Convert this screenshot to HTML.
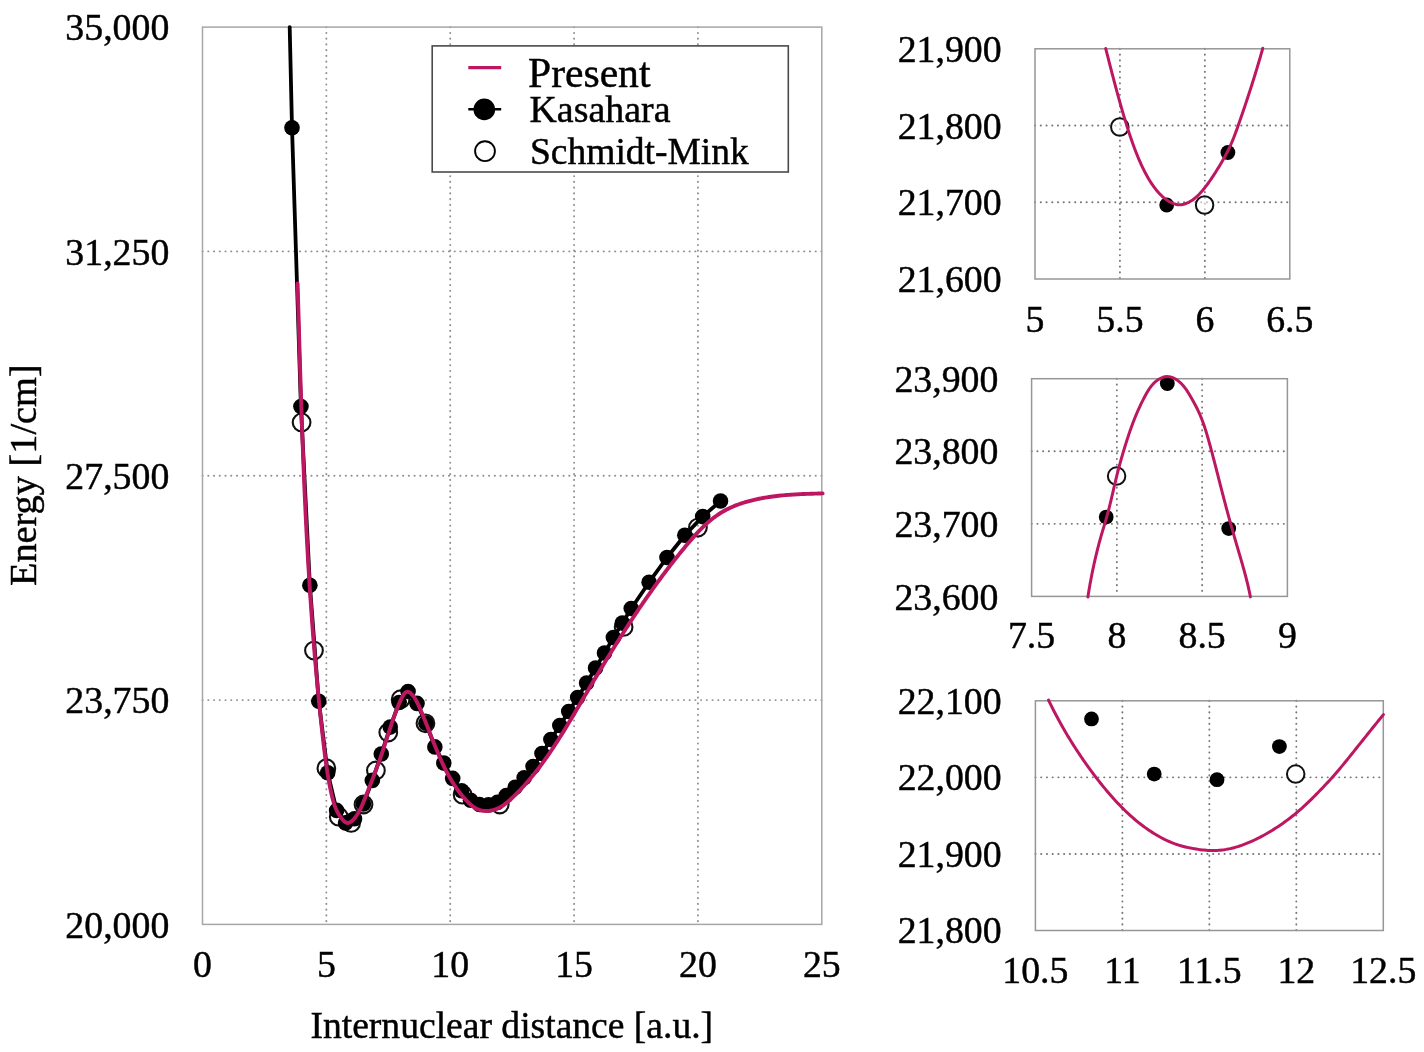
<!DOCTYPE html>
<html lang="en"><head><meta charset="utf-8"><title>Potential energy curve</title>
<style>
html,body{margin:0;padding:0;background:#fff}
body{width:1424px;height:1052px;overflow:hidden}
svg{display:block;filter:blur(0.5px)}
</style></head><body>
<svg width="1424" height="1052" viewBox="0 0 1424 1052">
<defs>
<clipPath id="cm"><rect x="199.5" y="25.1" width="624.8" height="901.3"/></clipPath>
</defs>
<rect width="1424" height="1052" fill="#fff"/>
<g id="main-grid">
<line x1="326.36" y1="27.1" x2="326.36" y2="924.4" stroke="#909090" stroke-width="1.9" stroke-dasharray="0.2 5.53" stroke-linecap="round"/>
<line x1="450.22" y1="27.1" x2="450.22" y2="924.4" stroke="#909090" stroke-width="1.9" stroke-dasharray="0.2 5.53" stroke-linecap="round"/>
<line x1="574.08" y1="27.1" x2="574.08" y2="924.4" stroke="#909090" stroke-width="1.9" stroke-dasharray="0.2 5.53" stroke-linecap="round"/>
<line x1="697.94" y1="27.1" x2="697.94" y2="924.4" stroke="#909090" stroke-width="1.9" stroke-dasharray="0.2 5.53" stroke-linecap="round"/>
<line x1="202.5" y1="700.08" x2="821.8" y2="700.08" stroke="#909090" stroke-width="1.9" stroke-dasharray="0.2 5.53" stroke-linecap="round"/>
<line x1="202.5" y1="475.75" x2="821.8" y2="475.75" stroke="#909090" stroke-width="1.9" stroke-dasharray="0.2 5.53" stroke-linecap="round"/>
<line x1="202.5" y1="251.42" x2="821.8" y2="251.42" stroke="#909090" stroke-width="1.9" stroke-dasharray="0.2 5.53" stroke-linecap="round"/>
</g>
<rect x="202.5" y="27.1" width="619.3" height="897.3" fill="none" stroke="#a6a6a6" stroke-width="1.5"/>
<g id="schmidt" fill="none" stroke="#111" stroke-width="2.1">
<circle cx="301.59" cy="422.4" r="8.85"/>
<circle cx="313.97" cy="650.6" r="8.85"/>
<circle cx="326.36" cy="768.2" r="8.85"/>
<circle cx="338.75" cy="816.7" r="8.85"/>
<circle cx="351.13" cy="822.9" r="8.85"/>
<circle cx="363.52" cy="804.5" r="8.85"/>
<circle cx="375.9" cy="770.5" r="8.85"/>
<circle cx="388.29" cy="732.5" r="8.85"/>
<circle cx="400.68" cy="699.2" r="8.85"/>
<circle cx="425.45" cy="723.3" r="8.85"/>
<circle cx="462.61" cy="794.7" r="8.85"/>
<circle cx="499.76" cy="804.5" r="8.85"/>
<circle cx="623.62" cy="626.9" r="8.85"/>
<circle cx="697.94" cy="527.6" r="8.85"/>
</g>
<g id="kasahara" clip-path="url(#cm)">
<path d="M289.7 27.2 L292 127.7 L300.93 406.6 L309.86 585.2 L318.78 701.3 L327.71 772.8 L336.64 810.4 L345.57 822.9 L354.5 818.8 L363.42 804 L372.35 780.4 L381.28 754 L390.21 727.1 L399.14 702.5 L408.06 691.5 L416.99 703.4 L425.92 723.3 L434.85 746.9 L443.78 763.1 L452.7 778.4 L461.63 790.8 L470.56 800.2 L479.49 804.5 L488.42 804.9 L497.34 802.4 L506.27 795.5 L515.2 787.3 L524.13 777.8 L533.06 766.5 L541.98 753.5 L550.91 739.5 L559.84 725.5 L568.77 711.5 L577.7 697.5 L586.62 683 L595.55 668 L604.48 653 L613.41 637.6 L622.34 623.1 L631.26 608.5 L649.12 582.2 L666.98 557.5 L684.83 535.2 L702.69 516.6 L720.54 501" fill="none" stroke="#000" stroke-width="3.8" stroke-linejoin="round" stroke-linecap="round"/>
<circle cx="292" cy="127.7" r="7.8" fill="#000"/>
<circle cx="300.93" cy="406.6" r="7.8" fill="#000"/>
<circle cx="309.86" cy="585.2" r="7.8" fill="#000"/>
<circle cx="318.78" cy="701.3" r="7.8" fill="#000"/>
<circle cx="327.71" cy="772.8" r="7.8" fill="#000"/>
<circle cx="336.64" cy="810.4" r="7.8" fill="#000"/>
<circle cx="345.57" cy="822.9" r="7.8" fill="#000"/>
<circle cx="354.5" cy="818.8" r="7.8" fill="#000"/>
<circle cx="363.42" cy="804" r="7.8" fill="#000"/>
<circle cx="372.35" cy="780.4" r="7.8" fill="#000"/>
<circle cx="381.28" cy="754" r="7.8" fill="#000"/>
<circle cx="390.21" cy="727.1" r="7.8" fill="#000"/>
<circle cx="399.14" cy="702.5" r="7.8" fill="#000"/>
<circle cx="408.06" cy="691.5" r="7.8" fill="#000"/>
<circle cx="416.99" cy="703.4" r="7.8" fill="#000"/>
<circle cx="425.92" cy="723.3" r="7.8" fill="#000"/>
<circle cx="434.85" cy="746.9" r="7.8" fill="#000"/>
<circle cx="443.78" cy="763.1" r="7.8" fill="#000"/>
<circle cx="452.7" cy="778.4" r="7.8" fill="#000"/>
<circle cx="461.63" cy="790.8" r="7.8" fill="#000"/>
<circle cx="470.56" cy="800.2" r="7.8" fill="#000"/>
<circle cx="479.49" cy="804.5" r="7.8" fill="#000"/>
<circle cx="488.42" cy="804.9" r="7.8" fill="#000"/>
<circle cx="497.34" cy="802.4" r="7.8" fill="#000"/>
<circle cx="506.27" cy="795.5" r="7.8" fill="#000"/>
<circle cx="515.2" cy="787.3" r="7.8" fill="#000"/>
<circle cx="524.13" cy="777.8" r="7.8" fill="#000"/>
<circle cx="533.06" cy="766.5" r="7.8" fill="#000"/>
<circle cx="541.98" cy="753.5" r="7.8" fill="#000"/>
<circle cx="550.91" cy="739.5" r="7.8" fill="#000"/>
<circle cx="559.84" cy="725.5" r="7.8" fill="#000"/>
<circle cx="568.77" cy="711.5" r="7.8" fill="#000"/>
<circle cx="577.7" cy="697.5" r="7.8" fill="#000"/>
<circle cx="586.62" cy="683" r="7.8" fill="#000"/>
<circle cx="595.55" cy="668" r="7.8" fill="#000"/>
<circle cx="604.48" cy="653" r="7.8" fill="#000"/>
<circle cx="613.41" cy="637.6" r="7.8" fill="#000"/>
<circle cx="622.34" cy="623.1" r="7.8" fill="#000"/>
<circle cx="631.26" cy="608.5" r="7.8" fill="#000"/>
<circle cx="649.12" cy="582.2" r="7.8" fill="#000"/>
<circle cx="666.98" cy="557.5" r="7.8" fill="#000"/>
<circle cx="684.83" cy="535.2" r="7.8" fill="#000"/>
<circle cx="702.69" cy="516.6" r="7.8" fill="#000"/>
<circle cx="720.54" cy="501" r="7.8" fill="#000"/>
</g>
<path id="present" d="M297.6 283.5 L297.66 285.5 L297.72 287.5 L297.78 289.5 L297.84 291.5 L297.89 293.5 L297.95 295.5 L298.01 297.5 L298.07 299.5 L298.13 301.5 L298.19 303.5 L298.25 305.5 L298.3 307.49 L298.36 309.49 L298.42 311.49 L298.48 313.49 L298.54 315.49 L298.6 317.49 L298.65 319.49 L298.71 321.48 L298.77 323.48 L298.83 325.48 L298.89 327.48 L298.95 329.48 L299.01 331.47 L299.06 333.47 L299.12 335.47 L299.18 337.47 L299.24 339.47 L299.3 341.46 L299.36 343.46 L299.42 345.46 L299.48 347.46 L299.54 349.45 L299.6 351.45 L299.66 353.45 L299.72 355.44 L299.78 357.44 L299.84 359.44 L299.9 361.43 L299.96 363.43 L300.02 365.43 L300.08 367.42 L300.14 369.42 L300.2 371.42 L300.27 373.41 L300.33 375.41 L300.39 377.4 L300.45 379.4 L300.51 381.4 L300.58 383.39 L300.64 385.39 L300.7 387.38 L300.77 389.38 L300.83 391.38 L300.9 393.37 L300.96 395.37 L301.03 397.36 L301.09 399.36 L301.16 401.35 L301.22 403.35 L301.29 405.34 L301.35 407.34 L301.42 409.33 L301.49 411.33 L301.56 413.32 L301.62 415.32 L301.69 417.31 L301.76 419.31 L301.83 421.3 L301.9 423.3 L301.97 425.29 L302.04 427.29 L302.11 429.28 L302.18 431.28 L302.25 433.27 L302.33 435.26 L302.4 437.26 L302.47 439.25 L302.54 441.25 L302.62 443.24 L302.69 445.24 L302.77 447.23 L302.84 449.22 L302.92 451.22 L303 453.21 L303.07 455.21 L303.15 457.2 L303.23 459.19 L303.31 461.19 L303.39 463.18 L303.47 465.17 L303.55 467.17 L303.63 469.16 L303.71 471.16 L303.79 473.15 L303.87 475.14 L303.96 477.14 L304.04 479.13 L304.12 481.12 L304.21 483.12 L304.3 485.11 L304.38 487.1 L304.47 489.1 L304.56 491.09 L304.65 493.08 L304.73 495.08 L304.82 497.07 L304.91 499.06 L305.01 501.06 L305.1 503.05 L305.19 505.04 L305.28 507.03 L305.38 509.03 L305.47 511.02 L305.57 513.01 L305.66 515.01 L305.76 517 L305.86 518.99 L305.96 520.99 L306.05 522.98 L306.15 524.97 L306.26 526.96 L306.36 528.96 L306.46 530.95 L306.56 532.94 L306.67 534.93 L306.77 536.93 L306.88 538.92 L306.98 540.91 L307.09 542.91 L307.2 544.9 L307.31 546.89 L307.42 548.88 L307.53 550.88 L307.64 552.87 L307.75 554.86 L307.87 556.85 L307.98 558.85 L308.1 560.84 L308.21 562.83 L308.33 564.82 L308.45 566.82 L308.57 568.81 L308.69 570.8 L308.81 572.8 L308.93 574.79 L309.05 576.78 L309.18 578.77 L309.3 580.77 L309.43 582.76 L309.56 584.75 L309.68 586.74 L309.81 588.74 L309.94 590.73 L310.07 592.72 L310.21 594.71 L310.34 596.71 L310.47 598.7 L310.61 600.69 L310.74 602.68 L310.88 604.68 L311.02 606.67 L311.16 608.66 L311.3 610.65 L311.44 612.65 L311.58 614.64 L311.73 616.63 L311.87 618.63 L312.02 620.62 L312.17 622.61 L312.32 624.6 L312.47 626.6 L312.62 628.59 L312.77 630.58 L312.92 632.58 L313.08 634.57 L313.23 636.56 L313.39 638.55 L313.55 640.55 L313.71 642.54 L313.87 644.53 L314.03 646.53 L314.19 648.52 L314.36 650.51 L314.52 652.5 L314.69 654.5 L314.86 656.49 L315.03 658.48 L315.2 660.48 L315.37 662.47 L315.54 664.46 L315.72 666.46 L315.89 668.45 L316.07 670.44 L316.25 672.44 L316.43 674.43 L316.61 676.42 L316.79 678.42 L316.98 680.41 L317.16 682.4 L317.35 684.4 L317.54 686.39 L317.73 688.39 L317.92 690.38 L318.11 692.37 L318.3 694.37 L318.5 696.36 L318.7 698.35 L318.89 700.35 L319.09 702.34 L319.29 704.34 L319.5 706.33 L319.7 708.32 L319.91 710.32 L320.11 712.31 L320.32 714.31 L320.53 716.3 L320.74 718.3 L320.95 720.29 L321.17 722.28 L321.38 724.28 L321.6 726.27 L321.82 728.27 L322.04 730.26 L322.26 732.26 L322.49 734.25 L322.71 736.25 L322.94 738.24 L323.17 740.24 L323.4 742.23 L323.63 744.23 L323.86 746.22 L324.1 748.21 L324.34 750.21 L324.58 752.2 L324.83 754.19 L325.08 756.18 L325.34 758.16 L325.6 760.15 L325.87 762.13 L326.15 764.11 L326.43 766.09 L326.72 768.06 L327.01 770.03 L327.32 771.99 L327.63 773.95 L327.95 775.91 L328.28 777.86 L328.62 779.81 L328.97 781.75 L329.34 783.69 L329.71 785.62 L330.09 787.54 L330.49 789.46 L330.9 791.37 L331.32 793.27 L331.76 795.17 L332.21 797.06 L332.68 798.94 L333.18 800.82 L333.73 802.68 L334.32 804.54 L334.98 806.39 L335.7 808.23 L336.51 810.06 L337.4 811.88 L338.39 813.69 L339.5 815.49 L340.72 817.29 L342.06 819.05 L343.52 820.66 L345.05 821.96 L346.63 822.77 L348.25 822.95 L349.85 822.46 L351.43 821.44 L352.96 820.05 L354.4 818.43 L355.73 816.73 L356.95 815 L358.07 813.25 L359.09 811.48 L360.04 809.7 L360.93 807.9 L361.76 806.09 L362.55 804.26 L363.31 802.43 L364.05 800.59 L364.79 798.75 L365.52 796.9 L366.26 795.05 L367 793.2 L367.74 791.35 L368.47 789.49 L369.21 787.63 L369.94 785.76 L370.68 783.9 L371.41 782.03 L372.14 780.16 L372.86 778.29 L373.58 776.42 L374.3 774.54 L375.01 772.67 L375.72 770.79 L376.42 768.91 L377.12 767.04 L377.81 765.16 L378.49 763.28 L379.17 761.39 L379.84 759.51 L380.5 757.63 L381.15 755.75 L381.79 753.87 L382.43 751.99 L383.05 750.11 L383.67 748.23 L384.29 746.35 L384.9 744.47 L385.5 742.58 L386.11 740.7 L386.71 738.82 L387.31 736.94 L387.92 735.06 L388.52 733.18 L389.13 731.29 L389.74 729.41 L390.36 727.52 L390.99 725.64 L391.62 723.75 L392.26 721.87 L392.92 719.98 L393.58 718.09 L394.25 716.2 L394.94 714.32 L395.64 712.42 L396.36 710.53 L397.1 708.64 L397.86 706.74 L398.65 704.82 L399.48 702.87 L400.36 700.9 L401.3 698.88 L402.3 696.86 L403.38 694.97 L404.53 693.39 L405.78 692.3 L407.09 691.8 L408.44 691.9 L409.77 692.56 L411.07 693.59 L412.29 694.82 L413.44 696.22 L414.53 697.76 L415.56 699.42 L416.54 701.18 L417.47 703.02 L418.37 704.91 L419.25 706.85 L420.1 708.8 L420.93 710.74 L421.75 712.68 L422.56 714.62 L423.36 716.55 L424.15 718.48 L424.93 720.4 L425.69 722.31 L426.45 724.22 L427.21 726.12 L427.95 728.02 L428.7 729.91 L429.43 731.79 L430.17 733.67 L430.9 735.54 L431.63 737.41 L432.36 739.27 L433.09 741.12 L433.82 742.96 L434.56 744.8 L435.3 746.63 L436.04 748.46 L436.79 750.28 L437.54 752.09 L438.3 753.89 L439.07 755.69 L439.85 757.48 L440.63 759.26 L441.43 761.03 L442.24 762.8 L443.06 764.56 L443.9 766.31 L444.75 768.05 L445.62 769.79 L446.5 771.52 L447.4 773.24 L448.32 774.95 L449.26 776.65 L450.22 778.34 L451.2 780.03 L452.21 781.71 L453.25 783.38 L454.32 785.04 L455.42 786.7 L456.56 788.34 L457.72 789.98 L458.93 791.61 L460.17 793.24 L461.46 794.85 L462.78 796.46 L464.16 798.06 L465.57 799.66 L467.04 801.23 L468.56 802.75 L470.12 804.2 L471.74 805.57 L473.42 806.83 L475.15 807.95 L476.94 808.92 L478.8 809.72 L480.71 810.32 L482.68 810.72 L484.69 810.93 L486.72 810.97 L488.75 810.83 L490.78 810.55 L492.78 810.11 L494.74 809.54 L496.65 808.85 L498.48 808.04 L500.24 807.13 L501.94 806.13 L503.57 805.05 L505.16 803.9 L506.7 802.69 L508.21 801.43 L509.68 800.13 L511.14 798.8 L512.57 797.46 L514 796.1 L515.41 794.73 L516.8 793.35 L518.19 791.95 L519.56 790.55 L520.92 789.12 L522.26 787.69 L523.6 786.24 L524.92 784.79 L526.23 783.32 L527.53 781.84 L528.82 780.35 L530.09 778.84 L531.36 777.33 L532.62 775.81 L533.86 774.27 L535.1 772.73 L536.32 771.18 L537.54 769.62 L538.75 768.05 L539.94 766.47 L541.13 764.88 L542.31 763.28 L543.48 761.68 L544.65 760.06 L545.8 758.44 L546.95 756.82 L548.09 755.18 L549.22 753.54 L550.35 751.89 L551.47 750.24 L552.58 748.58 L553.69 746.91 L554.79 745.24 L555.88 743.56 L556.97 741.88 L558.05 740.19 L559.13 738.49 L560.2 736.8 L561.27 735.1 L562.34 733.39 L563.4 731.68 L564.45 729.97 L565.5 728.25 L566.55 726.54 L567.59 724.81 L568.64 723.09 L569.67 721.36 L570.71 719.64 L571.74 717.91 L572.77 716.17 L573.8 714.44 L574.83 712.71 L575.85 710.97 L576.88 709.24 L577.9 707.5 L578.92 705.77 L579.95 704.03 L580.97 702.3 L581.99 700.56 L583.01 698.83 L584.03 697.1 L585.05 695.37 L586.07 693.64 L587.1 691.91 L588.12 690.18 L589.14 688.46 L590.17 686.73 L591.19 685.01 L592.22 683.29 L593.24 681.56 L594.27 679.84 L595.3 678.13 L596.32 676.41 L597.35 674.69 L598.38 672.98 L599.42 671.26 L600.45 669.55 L601.48 667.84 L602.52 666.13 L603.55 664.43 L604.59 662.72 L605.63 661.02 L606.67 659.31 L607.71 657.61 L608.76 655.91 L609.8 654.21 L610.85 652.52 L611.9 650.82 L612.95 649.13 L614 647.44 L615.06 645.75 L616.11 644.06 L617.17 642.37 L618.23 640.68 L619.3 639 L620.36 637.32 L621.43 635.64 L622.5 633.96 L623.57 632.29 L624.65 630.61 L625.72 628.94 L626.8 627.27 L627.89 625.6 L628.97 623.93 L630.06 622.27 L631.15 620.61 L632.24 618.95 L633.34 617.29 L634.44 615.63 L635.54 613.98 L636.65 612.32 L637.76 610.67 L638.87 609.02 L639.99 607.38 L641.1 605.73 L642.23 604.09 L643.35 602.45 L644.48 600.82 L645.61 599.18 L646.75 597.55 L647.89 595.92 L649.03 594.29 L650.18 592.66 L651.33 591.04 L652.49 589.42 L653.65 587.8 L654.81 586.18 L655.98 584.56 L657.15 582.95 L658.33 581.34 L659.51 579.74 L660.69 578.13 L661.88 576.53 L663.07 574.93 L664.27 573.33 L665.47 571.74 L666.68 570.14 L667.89 568.56 L669.1 566.97 L670.33 565.38 L671.55 563.8 L672.78 562.22 L674.02 560.65 L675.26 559.07 L676.5 557.5 L677.75 555.93 L679.01 554.37 L680.27 552.81 L681.54 551.25 L682.81 549.69 L684.09 548.14 L685.37 546.58 L686.66 545.04 L687.95 543.49 L689.25 541.95 L690.56 540.42 L691.88 538.9 L693.21 537.39 L694.55 535.89 L695.9 534.4 L697.26 532.92 L698.64 531.46 L700.03 530.02 L701.43 528.6 L702.85 527.2 L704.29 525.81 L705.75 524.46 L707.22 523.12 L708.71 521.81 L710.23 520.53 L711.76 519.28 L713.32 518.06 L714.89 516.87 L716.5 515.71 L718.12 514.59 L719.77 513.5 L721.45 512.45 L723.16 511.44 L724.89 510.47 L726.65 509.53 L728.43 508.64 L730.24 507.78 L732.07 506.96 L733.91 506.17 L735.78 505.42 L737.66 504.7 L739.56 504.02 L741.48 503.36 L743.41 502.74 L745.34 502.14 L747.29 501.58 L749.25 501.04 L751.21 500.53 L753.18 500.05 L755.16 499.59 L757.13 499.16 L759.11 498.75 L761.09 498.36 L763.06 497.99 L765.04 497.65 L767.01 497.32 L768.98 497.01 L770.95 496.73 L772.92 496.46 L774.89 496.21 L776.85 495.97 L778.82 495.75 L780.79 495.54 L782.76 495.35 L784.73 495.18 L786.7 495.01 L788.67 494.86 L790.64 494.72 L792.62 494.59 L794.59 494.47 L796.57 494.36 L798.55 494.25 L800.54 494.16 L802.52 494.07 L804.51 493.99 L806.5 493.91 L808.5 493.84 L810.5 493.77 L812.51 493.7 L814.52 493.64 L816.53 493.58 L818.55 493.52 L820.57 493.46 L822.6 493.4" fill="none" stroke="#bd1762" stroke-width="3.9" stroke-linejoin="round" stroke-linecap="round"/>
<text x="169.3" y="40.3" font-family="'Liberation Serif', 'Times New Roman', Times, serif" font-size="37.8" text-anchor="end" fill="#000" stroke="#000" stroke-width="0.45">35,000</text>
<text x="169.3" y="264.62" font-family="'Liberation Serif', 'Times New Roman', Times, serif" font-size="37.8" text-anchor="end" fill="#000" stroke="#000" stroke-width="0.45">31,250</text>
<text x="169.3" y="488.95" font-family="'Liberation Serif', 'Times New Roman', Times, serif" font-size="37.8" text-anchor="end" fill="#000" stroke="#000" stroke-width="0.45">27,500</text>
<text x="169.3" y="713.28" font-family="'Liberation Serif', 'Times New Roman', Times, serif" font-size="37.8" text-anchor="end" fill="#000" stroke="#000" stroke-width="0.45">23,750</text>
<text x="169.3" y="937.6" font-family="'Liberation Serif', 'Times New Roman', Times, serif" font-size="37.8" text-anchor="end" fill="#000" stroke="#000" stroke-width="0.45">20,000</text>
<text x="202.5" y="976.8" font-family="'Liberation Serif', 'Times New Roman', Times, serif" font-size="37.8" text-anchor="middle" fill="#000" stroke="#000" stroke-width="0.45">0</text>
<text x="326.36" y="976.8" font-family="'Liberation Serif', 'Times New Roman', Times, serif" font-size="37.8" text-anchor="middle" fill="#000" stroke="#000" stroke-width="0.45">5</text>
<text x="450.22" y="976.8" font-family="'Liberation Serif', 'Times New Roman', Times, serif" font-size="37.8" text-anchor="middle" fill="#000" stroke="#000" stroke-width="0.45">10</text>
<text x="574.08" y="976.8" font-family="'Liberation Serif', 'Times New Roman', Times, serif" font-size="37.8" text-anchor="middle" fill="#000" stroke="#000" stroke-width="0.45">15</text>
<text x="697.94" y="976.8" font-family="'Liberation Serif', 'Times New Roman', Times, serif" font-size="37.8" text-anchor="middle" fill="#000" stroke="#000" stroke-width="0.45">20</text>
<text x="821.8" y="976.8" font-family="'Liberation Serif', 'Times New Roman', Times, serif" font-size="37.8" text-anchor="middle" fill="#000" stroke="#000" stroke-width="0.45">25</text>
<text x="511.8" y="1038" font-family="'Liberation Serif', 'Times New Roman', Times, serif" font-size="37.6" text-anchor="middle" fill="#000" stroke="#000" stroke-width="0.45">Internuclear distance [a.u.]</text>
<text transform="translate(36 475.2) rotate(-90)" font-family="'Liberation Serif', 'Times New Roman', Times, serif" font-size="38.3" text-anchor="middle" fill="#000" stroke="#000" stroke-width="0.45">Energy [1/cm]</text>
<g id="legend">
<rect x="432.2" y="45.9" width="356.1" height="126.1" fill="#fff" stroke="#4a4a4a" stroke-width="1.6"/>
<line x1="468.3" y1="67.7" x2="501.2" y2="67.7" stroke="#bd1762" stroke-width="3.2"/>
<line x1="468.3" y1="109.3" x2="501.2" y2="109.3" stroke="#000" stroke-width="2.6"/>
<circle cx="484.3" cy="109.4" r="10.8" fill="#000"/>
<circle cx="485.0" cy="151.2" r="9.9" fill="#fff" stroke="#000" stroke-width="1.9"/>
<text x="528" y="86.6" font-family="'Liberation Serif', 'Times New Roman', Times, serif" font-size="41.6" text-anchor="start" fill="#000" stroke="#000" stroke-width="0.45">Present</text>
<text x="529.5" y="122.2" font-family="'Liberation Serif', 'Times New Roman', Times, serif" font-size="37.9" text-anchor="start" fill="#000" stroke="#000" stroke-width="0.45">Kasahara</text>
<text x="530" y="164.2" font-family="'Liberation Serif', 'Times New Roman', Times, serif" font-size="37.5" text-anchor="start" fill="#000" stroke="#000" stroke-width="0.45">Schmidt-Mink</text>
</g>
<g id="inset1">
<line x1="1119.93" y1="48.8" x2="1119.93" y2="279" stroke="#777" stroke-width="1.9" stroke-dasharray="0.2 5.53" stroke-linecap="round"/>
<line x1="1204.87" y1="48.8" x2="1204.87" y2="279" stroke="#777" stroke-width="1.9" stroke-dasharray="0.2 5.53" stroke-linecap="round"/>
<line x1="1035" y1="125.53" x2="1289.8" y2="125.53" stroke="#777" stroke-width="1.9" stroke-dasharray="0.2 5.53" stroke-linecap="round"/>
<line x1="1035" y1="202.27" x2="1289.8" y2="202.27" stroke="#777" stroke-width="1.9" stroke-dasharray="0.2 5.53" stroke-linecap="round"/>
<rect x="1035" y="48.8" width="254.8" height="230.2" fill="none" stroke="#969696" stroke-width="1.5"/>
<circle cx="1166.7" cy="205" r="7.4" fill="#000"/>
<circle cx="1227.9" cy="152.5" r="7.4" fill="#000"/>
<circle cx="1119.8" cy="127" r="8.75" fill="#fff" fill-opacity="0.55" stroke="#111" stroke-width="2"/>
<circle cx="1204.6" cy="205" r="8.75" fill="#fff" fill-opacity="0.55" stroke="#111" stroke-width="2"/>
<path d="M1105.7 48.5 L1106.19 50.43 L1106.68 52.36 L1107.18 54.29 L1107.67 56.22 L1108.16 58.15 L1108.66 60.08 L1109.15 62.01 L1109.65 63.93 L1110.14 65.86 L1110.64 67.79 L1111.14 69.72 L1111.64 71.65 L1112.14 73.57 L1112.64 75.5 L1113.15 77.43 L1113.66 79.35 L1114.16 81.28 L1114.68 83.2 L1115.19 85.13 L1115.7 87.05 L1116.22 88.98 L1116.74 90.9 L1117.27 92.82 L1117.79 94.74 L1118.32 96.66 L1118.85 98.58 L1119.39 100.5 L1119.93 102.41 L1120.47 104.33 L1121.01 106.25 L1121.56 108.16 L1122.12 110.07 L1122.67 111.99 L1123.24 113.9 L1123.8 115.81 L1124.37 117.72 L1124.95 119.62 L1125.53 121.53 L1126.11 123.43 L1126.7 125.33 L1127.3 127.23 L1127.9 129.13 L1128.52 131.03 L1129.13 132.92 L1129.76 134.81 L1130.39 136.7 L1131.03 138.59 L1131.68 140.47 L1132.34 142.35 L1133.01 144.22 L1133.69 146.09 L1134.38 147.96 L1135.08 149.82 L1135.8 151.68 L1136.53 153.53 L1137.27 155.38 L1138.03 157.22 L1138.8 159.06 L1139.59 160.89 L1140.4 162.71 L1141.22 164.52 L1142.07 166.33 L1142.93 168.14 L1143.81 169.93 L1144.72 171.72 L1145.65 173.49 L1146.6 175.26 L1147.58 177 L1148.58 178.74 L1149.62 180.45 L1150.68 182.14 L1151.78 183.81 L1152.91 185.45 L1154.08 187.06 L1155.28 188.65 L1156.52 190.2 L1157.8 191.72 L1159.12 193.2 L1160.49 194.63 L1161.91 196.02 L1163.4 197.35 L1164.94 198.62 L1166.56 199.83 L1168.25 200.95 L1170.02 201.99 L1171.85 202.91 L1173.74 203.69 L1175.66 204.28 L1177.61 204.66 L1179.57 204.8 L1181.53 204.68 L1183.48 204.31 L1185.41 203.74 L1187.29 202.98 L1189.13 202.07 L1190.91 201.04 L1192.61 199.92 L1194.24 198.72 L1195.8 197.45 L1197.29 196.12 L1198.73 194.73 L1200.11 193.3 L1201.44 191.82 L1202.74 190.3 L1204 188.75 L1205.23 187.18 L1206.43 185.6 L1207.62 184 L1208.78 182.38 L1209.93 180.75 L1211.06 179.11 L1212.17 177.46 L1213.27 175.8 L1214.36 174.13 L1215.43 172.45 L1216.49 170.76 L1217.54 169.07 L1218.59 167.37 L1219.62 165.67 L1220.65 163.96 L1221.67 162.24 L1222.68 160.52 L1223.67 158.8 L1224.65 157.06 L1225.61 155.32 L1226.54 153.56 L1227.45 151.79 L1228.34 150.01 L1229.2 148.22 L1230.03 146.41 L1230.84 144.59 L1231.63 142.77 L1232.4 140.93 L1233.15 139.08 L1233.89 137.23 L1234.6 135.37 L1235.31 133.51 L1236 131.64 L1236.69 129.76 L1237.36 127.88 L1238.03 126 L1238.69 124.12 L1239.35 122.23 L1240 120.35 L1240.66 118.46 L1241.31 116.58 L1241.95 114.69 L1242.6 112.81 L1243.24 110.92 L1243.88 109.03 L1244.52 107.15 L1245.16 105.26 L1245.79 103.37 L1246.42 101.48 L1247.05 99.59 L1247.67 97.7 L1248.29 95.81 L1248.91 93.92 L1249.53 92.03 L1250.14 90.14 L1250.75 88.24 L1251.36 86.35 L1251.96 84.45 L1252.56 82.56 L1253.16 80.66 L1253.75 78.76 L1254.35 76.86 L1254.93 74.96 L1255.52 73.06 L1256.1 71.16 L1256.68 69.25 L1257.25 67.34 L1257.82 65.44 L1258.39 63.53 L1258.95 61.62 L1259.52 59.71 L1260.07 57.79 L1260.63 55.88 L1261.17 53.96 L1261.72 52.04 L1262.26 50.12 L1262.8 48.2" fill="none" stroke="#bd1762" stroke-width="3" stroke-linecap="round" stroke-linejoin="round"/>
<text x="1035" y="332.2" font-family="'Liberation Serif', 'Times New Roman', Times, serif" font-size="37.8" text-anchor="middle" fill="#000" stroke="#000" stroke-width="0.45">5</text>
<text x="1119.93" y="332.2" font-family="'Liberation Serif', 'Times New Roman', Times, serif" font-size="37.8" text-anchor="middle" fill="#000" stroke="#000" stroke-width="0.45">5.5</text>
<text x="1204.87" y="332.2" font-family="'Liberation Serif', 'Times New Roman', Times, serif" font-size="37.8" text-anchor="middle" fill="#000" stroke="#000" stroke-width="0.45">6</text>
<text x="1289.8" y="332.2" font-family="'Liberation Serif', 'Times New Roman', Times, serif" font-size="37.8" text-anchor="middle" fill="#000" stroke="#000" stroke-width="0.45">6.5</text>
<text x="1001.6" y="61.9" font-family="'Liberation Serif', 'Times New Roman', Times, serif" font-size="37.8" text-anchor="end" fill="#000" stroke="#000" stroke-width="0.45">21,900</text>
<text x="1001.6" y="138.63" font-family="'Liberation Serif', 'Times New Roman', Times, serif" font-size="37.8" text-anchor="end" fill="#000" stroke="#000" stroke-width="0.45">21,800</text>
<text x="1001.6" y="215.37" font-family="'Liberation Serif', 'Times New Roman', Times, serif" font-size="37.8" text-anchor="end" fill="#000" stroke="#000" stroke-width="0.45">21,700</text>
<text x="1001.6" y="292.1" font-family="'Liberation Serif', 'Times New Roman', Times, serif" font-size="37.8" text-anchor="end" fill="#000" stroke="#000" stroke-width="0.45">21,600</text>
</g>
<g id="inset2">
<line x1="1116.87" y1="378.7" x2="1116.87" y2="596.4" stroke="#777" stroke-width="1.9" stroke-dasharray="0.2 5.53" stroke-linecap="round"/>
<line x1="1202.13" y1="378.7" x2="1202.13" y2="596.4" stroke="#777" stroke-width="1.9" stroke-dasharray="0.2 5.53" stroke-linecap="round"/>
<line x1="1031.6" y1="451.27" x2="1287.4" y2="451.27" stroke="#777" stroke-width="1.9" stroke-dasharray="0.2 5.53" stroke-linecap="round"/>
<line x1="1031.6" y1="523.83" x2="1287.4" y2="523.83" stroke="#777" stroke-width="1.9" stroke-dasharray="0.2 5.53" stroke-linecap="round"/>
<rect x="1031.6" y="378.7" width="255.8" height="217.7" fill="none" stroke="#969696" stroke-width="1.5"/>
<circle cx="1167.3" cy="383.5" r="7.4" fill="#000"/>
<circle cx="1106.2" cy="517.1" r="7.4" fill="#000"/>
<circle cx="1228.7" cy="528.6" r="7.4" fill="#000"/>
<circle cx="1116.6" cy="476.1" r="8.75" fill="#fff" fill-opacity="0.55" stroke="#111" stroke-width="2"/>
<path d="M1087.9 596.9 L1088.21 594.93 L1088.53 592.96 L1088.86 590.99 L1089.19 589.02 L1089.53 587.05 L1089.88 585.09 L1090.23 583.12 L1090.59 581.16 L1090.96 579.19 L1091.33 577.23 L1091.72 575.27 L1092.1 573.31 L1092.5 571.35 L1092.9 569.4 L1093.32 567.44 L1093.73 565.49 L1094.16 563.54 L1094.6 561.59 L1095.04 559.64 L1095.49 557.7 L1095.95 555.75 L1096.41 553.81 L1096.89 551.87 L1097.37 549.93 L1097.86 548 L1098.36 546.06 L1098.87 544.13 L1099.38 542.2 L1099.91 540.27 L1100.44 538.35 L1100.98 536.43 L1101.54 534.51 L1102.1 532.59 L1102.66 530.68 L1103.24 528.76 L1103.81 526.85 L1104.39 524.94 L1104.96 523.03 L1105.53 521.11 L1106.09 519.2 L1106.64 517.28 L1107.17 515.35 L1107.7 513.43 L1108.21 511.5 L1108.71 509.57 L1109.21 507.63 L1109.69 505.7 L1110.17 503.76 L1110.64 501.82 L1111.1 499.87 L1111.56 497.93 L1112.02 495.99 L1112.47 494.04 L1112.92 492.1 L1113.37 490.15 L1113.82 488.2 L1114.27 486.26 L1114.73 484.31 L1115.19 482.37 L1115.65 480.43 L1116.12 478.48 L1116.59 476.54 L1117.07 474.61 L1117.56 472.67 L1118.06 470.74 L1118.56 468.81 L1119.08 466.88 L1119.6 464.95 L1120.12 463.02 L1120.66 461.1 L1121.2 459.18 L1121.75 457.26 L1122.31 455.34 L1122.87 453.42 L1123.44 451.51 L1124.01 449.6 L1124.59 447.69 L1125.18 445.78 L1125.78 443.87 L1126.38 441.96 L1126.99 440.06 L1127.6 438.16 L1128.23 436.26 L1128.86 434.36 L1129.5 432.47 L1130.15 430.58 L1130.82 428.7 L1131.49 426.82 L1132.18 424.94 L1132.87 423.07 L1133.58 421.21 L1134.31 419.35 L1135.05 417.49 L1135.8 415.65 L1136.58 413.81 L1137.36 411.97 L1138.16 410.15 L1138.98 408.33 L1139.82 406.52 L1140.67 404.71 L1141.54 402.91 L1142.43 401.12 L1143.34 399.34 L1144.27 397.57 L1145.21 395.8 L1146.17 394.04 L1147.16 392.3 L1148.19 390.58 L1149.27 388.89 L1150.41 387.25 L1151.63 385.66 L1152.94 384.14 L1154.35 382.7 L1155.88 381.35 L1157.53 380.1 L1159.28 378.99 L1161.12 378.05 L1163.02 377.31 L1164.96 376.82 L1166.92 376.61 L1168.89 376.7 L1170.83 377.08 L1172.75 377.72 L1174.61 378.57 L1176.41 379.61 L1178.12 380.8 L1179.73 382.11 L1181.22 383.5 L1182.61 384.96 L1183.91 386.48 L1185.14 388.06 L1186.29 389.69 L1187.4 391.35 L1188.46 393.03 L1189.5 394.74 L1190.53 396.46 L1191.54 398.18 L1192.53 399.92 L1193.5 401.66 L1194.46 403.42 L1195.4 405.18 L1196.31 406.96 L1197.21 408.75 L1198.07 410.55 L1198.91 412.36 L1199.72 414.18 L1200.5 416.01 L1201.26 417.86 L1201.99 419.72 L1202.69 421.59 L1203.37 423.46 L1204.03 425.35 L1204.67 427.24 L1205.29 429.14 L1205.89 431.05 L1206.48 432.96 L1207.06 434.87 L1207.62 436.79 L1208.18 438.72 L1208.72 440.64 L1209.26 442.57 L1209.79 444.5 L1210.32 446.43 L1210.84 448.36 L1211.36 450.29 L1211.88 452.22 L1212.39 454.15 L1212.9 456.08 L1213.41 458.01 L1213.91 459.94 L1214.42 461.88 L1214.92 463.81 L1215.42 465.74 L1215.91 467.67 L1216.41 469.61 L1216.9 471.54 L1217.4 473.47 L1217.89 475.41 L1218.39 477.34 L1218.88 479.27 L1219.37 481.21 L1219.87 483.14 L1220.36 485.07 L1220.86 487.01 L1221.36 488.94 L1221.86 490.87 L1222.36 492.81 L1222.86 494.74 L1223.36 496.67 L1223.87 498.6 L1224.38 500.53 L1224.88 502.47 L1225.39 504.4 L1225.91 506.33 L1226.42 508.26 L1226.94 510.18 L1227.46 512.11 L1227.98 514.04 L1228.5 515.97 L1229.03 517.89 L1229.56 519.82 L1230.09 521.74 L1230.63 523.67 L1231.17 525.59 L1231.71 527.51 L1232.25 529.43 L1232.8 531.35 L1233.34 533.27 L1233.9 535.19 L1234.45 537.11 L1235 539.03 L1235.56 540.95 L1236.12 542.87 L1236.67 544.78 L1237.24 546.7 L1237.8 548.61 L1238.36 550.53 L1238.93 552.45 L1239.49 554.36 L1240.05 556.28 L1240.61 558.19 L1241.17 560.11 L1241.72 562.03 L1242.28 563.95 L1242.82 565.87 L1243.36 567.79 L1243.9 569.71 L1244.43 571.64 L1244.95 573.57 L1245.46 575.49 L1245.97 577.43 L1246.47 579.36 L1246.95 581.3 L1247.43 583.23 L1247.89 585.18 L1248.34 587.12 L1248.78 589.07 L1249.21 591.02 L1249.62 592.98 L1250.02 594.94 L1250.4 596.9" fill="none" stroke="#bd1762" stroke-width="3" stroke-linecap="round" stroke-linejoin="round"/>
<text x="1031.6" y="648" font-family="'Liberation Serif', 'Times New Roman', Times, serif" font-size="37.8" text-anchor="middle" fill="#000" stroke="#000" stroke-width="0.45">7.5</text>
<text x="1116.87" y="648" font-family="'Liberation Serif', 'Times New Roman', Times, serif" font-size="37.8" text-anchor="middle" fill="#000" stroke="#000" stroke-width="0.45">8</text>
<text x="1202.13" y="648" font-family="'Liberation Serif', 'Times New Roman', Times, serif" font-size="37.8" text-anchor="middle" fill="#000" stroke="#000" stroke-width="0.45">8.5</text>
<text x="1287.4" y="648" font-family="'Liberation Serif', 'Times New Roman', Times, serif" font-size="37.8" text-anchor="middle" fill="#000" stroke="#000" stroke-width="0.45">9</text>
<text x="998.4" y="391.8" font-family="'Liberation Serif', 'Times New Roman', Times, serif" font-size="37.8" text-anchor="end" fill="#000" stroke="#000" stroke-width="0.45">23,900</text>
<text x="998.4" y="464.37" font-family="'Liberation Serif', 'Times New Roman', Times, serif" font-size="37.8" text-anchor="end" fill="#000" stroke="#000" stroke-width="0.45">23,800</text>
<text x="998.4" y="536.93" font-family="'Liberation Serif', 'Times New Roman', Times, serif" font-size="37.8" text-anchor="end" fill="#000" stroke="#000" stroke-width="0.45">23,700</text>
<text x="998.4" y="609.5" font-family="'Liberation Serif', 'Times New Roman', Times, serif" font-size="37.8" text-anchor="end" fill="#000" stroke="#000" stroke-width="0.45">23,600</text>
</g>
<g id="inset3">
<line x1="1122.38" y1="700.8" x2="1122.38" y2="930.5" stroke="#777" stroke-width="1.9" stroke-dasharray="0.2 5.53" stroke-linecap="round"/>
<line x1="1209.35" y1="700.8" x2="1209.35" y2="930.5" stroke="#777" stroke-width="1.9" stroke-dasharray="0.2 5.53" stroke-linecap="round"/>
<line x1="1296.33" y1="700.8" x2="1296.33" y2="930.5" stroke="#777" stroke-width="1.9" stroke-dasharray="0.2 5.53" stroke-linecap="round"/>
<line x1="1035.4" y1="777.37" x2="1383.3" y2="777.37" stroke="#777" stroke-width="1.9" stroke-dasharray="0.2 5.53" stroke-linecap="round"/>
<line x1="1035.4" y1="853.93" x2="1383.3" y2="853.93" stroke="#777" stroke-width="1.9" stroke-dasharray="0.2 5.53" stroke-linecap="round"/>
<rect x="1035.4" y="700.8" width="347.9" height="229.7" fill="none" stroke="#969696" stroke-width="1.5"/>
<circle cx="1091.5" cy="718.9" r="7.4" fill="#000"/>
<circle cx="1154.2" cy="774.1" r="7.4" fill="#000"/>
<circle cx="1217" cy="779.7" r="7.4" fill="#000"/>
<circle cx="1279.4" cy="746.6" r="7.4" fill="#000"/>
<circle cx="1295.7" cy="774.1" r="8.75" fill="#fff" fill-opacity="1" stroke="#111" stroke-width="2"/>
<path d="M1048.5 700 L1049.36 701.8 L1050.23 703.6 L1051.11 705.39 L1051.99 707.17 L1052.89 708.96 L1053.79 710.74 L1054.71 712.51 L1055.63 714.28 L1056.56 716.04 L1057.5 717.8 L1058.44 719.56 L1059.4 721.31 L1060.36 723.05 L1061.33 724.8 L1062.31 726.53 L1063.3 728.26 L1064.3 729.99 L1065.3 731.72 L1066.31 733.43 L1067.33 735.15 L1068.36 736.86 L1069.4 738.56 L1070.44 740.26 L1071.49 741.96 L1072.55 743.65 L1073.61 745.34 L1074.69 747.02 L1075.77 748.7 L1076.85 750.37 L1077.95 752.04 L1079.05 753.7 L1080.16 755.36 L1081.28 757.01 L1082.4 758.66 L1083.53 760.3 L1084.67 761.94 L1085.82 763.57 L1086.97 765.2 L1088.13 766.82 L1089.3 768.44 L1090.48 770.05 L1091.66 771.65 L1092.86 773.25 L1094.05 774.85 L1095.26 776.44 L1096.48 778.02 L1097.7 779.6 L1098.93 781.17 L1100.17 782.73 L1101.41 784.29 L1102.67 785.84 L1103.93 787.38 L1105.2 788.92 L1106.48 790.45 L1107.77 791.97 L1109.07 793.49 L1110.38 794.99 L1111.7 796.49 L1113.02 797.98 L1114.36 799.46 L1115.71 800.94 L1117.06 802.4 L1118.43 803.85 L1119.81 805.3 L1121.2 806.73 L1122.61 808.15 L1124.02 809.55 L1125.45 810.95 L1126.89 812.33 L1128.34 813.69 L1129.81 815.05 L1131.29 816.38 L1132.79 817.7 L1134.3 819 L1135.82 820.29 L1137.36 821.56 L1138.92 822.81 L1140.48 824.04 L1142.07 825.26 L1143.67 826.45 L1145.28 827.63 L1146.91 828.78 L1148.55 829.92 L1150.21 831.04 L1151.88 832.13 L1153.57 833.21 L1155.27 834.26 L1156.99 835.29 L1158.72 836.29 L1160.47 837.27 L1162.23 838.21 L1164.01 839.13 L1165.8 840.01 L1167.61 840.86 L1169.43 841.67 L1171.27 842.45 L1173.12 843.18 L1174.99 843.87 L1176.88 844.52 L1178.77 845.12 L1180.69 845.69 L1182.61 846.22 L1184.54 846.72 L1186.49 847.18 L1188.44 847.61 L1190.4 848.01 L1192.36 848.39 L1194.33 848.75 L1196.31 849.08 L1198.29 849.38 L1200.27 849.66 L1202.25 849.9 L1204.24 850.1 L1206.23 850.27 L1208.22 850.4 L1210.21 850.49 L1212.21 850.52 L1214.2 850.51 L1216.19 850.45 L1218.19 850.34 L1220.18 850.17 L1222.16 849.95 L1224.14 849.69 L1226.12 849.38 L1228.09 849.02 L1230.05 848.62 L1232 848.17 L1233.94 847.69 L1235.86 847.16 L1237.78 846.59 L1239.68 845.98 L1241.57 845.34 L1243.45 844.67 L1245.32 843.96 L1247.17 843.22 L1249.02 842.45 L1250.85 841.66 L1252.67 840.84 L1254.49 840 L1256.28 839.13 L1258.07 838.24 L1259.85 837.34 L1261.62 836.41 L1263.37 835.46 L1265.12 834.5 L1266.86 833.51 L1268.58 832.51 L1270.3 831.49 L1272 830.45 L1273.7 829.4 L1275.38 828.33 L1277.06 827.24 L1278.72 826.14 L1280.38 825.03 L1282.02 823.9 L1283.66 822.75 L1285.28 821.59 L1286.89 820.41 L1288.49 819.22 L1290.08 818.01 L1291.65 816.78 L1293.22 815.54 L1294.76 814.29 L1296.3 813.02 L1297.82 811.73 L1299.33 810.43 L1300.83 809.11 L1302.32 807.78 L1303.79 806.44 L1305.25 805.08 L1306.71 803.71 L1308.15 802.34 L1309.59 800.95 L1311.02 799.56 L1312.44 798.16 L1313.86 796.75 L1315.27 795.34 L1316.67 793.92 L1318.07 792.5 L1319.47 791.07 L1320.86 789.64 L1322.24 788.2 L1323.62 786.76 L1324.99 785.31 L1326.35 783.85 L1327.71 782.39 L1329.06 780.93 L1330.4 779.45 L1331.74 777.97 L1333.07 776.48 L1334.38 774.99 L1335.7 773.49 L1337 771.98 L1338.29 770.46 L1339.58 768.94 L1340.86 767.41 L1342.14 765.88 L1343.4 764.34 L1344.67 762.79 L1345.93 761.25 L1347.19 759.7 L1348.44 758.15 L1349.69 756.59 L1350.94 755.03 L1352.18 753.48 L1353.43 751.92 L1354.67 750.36 L1355.92 748.8 L1357.16 747.24 L1358.4 745.68 L1359.65 744.12 L1360.89 742.56 L1362.13 741 L1363.38 739.44 L1364.62 737.89 L1365.87 736.33 L1367.11 734.77 L1368.36 733.21 L1369.61 731.66 L1370.85 730.1 L1372.1 728.55 L1373.35 726.99 L1374.6 725.44 L1375.85 723.89 L1377.11 722.34 L1378.36 720.79 L1379.62 719.24 L1380.88 717.69 L1382.14 716.14 L1383.4 714.6" fill="none" stroke="#bd1762" stroke-width="3" stroke-linecap="round" stroke-linejoin="round"/>
<text x="1035.4" y="982.5" font-family="'Liberation Serif', 'Times New Roman', Times, serif" font-size="37.8" text-anchor="middle" fill="#000" stroke="#000" stroke-width="0.45">10.5</text>
<text x="1122.38" y="982.5" font-family="'Liberation Serif', 'Times New Roman', Times, serif" font-size="37.8" text-anchor="middle" fill="#000" stroke="#000" stroke-width="0.45">11</text>
<text x="1209.35" y="982.5" font-family="'Liberation Serif', 'Times New Roman', Times, serif" font-size="37.8" text-anchor="middle" fill="#000" stroke="#000" stroke-width="0.45">11.5</text>
<text x="1296.33" y="982.5" font-family="'Liberation Serif', 'Times New Roman', Times, serif" font-size="37.8" text-anchor="middle" fill="#000" stroke="#000" stroke-width="0.45">12</text>
<text x="1383.3" y="982.5" font-family="'Liberation Serif', 'Times New Roman', Times, serif" font-size="37.8" text-anchor="middle" fill="#000" stroke="#000" stroke-width="0.45">12.5</text>
<text x="1001.6" y="713.6" font-family="'Liberation Serif', 'Times New Roman', Times, serif" font-size="37.8" text-anchor="end" fill="#000" stroke="#000" stroke-width="0.45">22,100</text>
<text x="1001.6" y="790.17" font-family="'Liberation Serif', 'Times New Roman', Times, serif" font-size="37.8" text-anchor="end" fill="#000" stroke="#000" stroke-width="0.45">22,000</text>
<text x="1001.6" y="866.73" font-family="'Liberation Serif', 'Times New Roman', Times, serif" font-size="37.8" text-anchor="end" fill="#000" stroke="#000" stroke-width="0.45">21,900</text>
<text x="1001.6" y="943.3" font-family="'Liberation Serif', 'Times New Roman', Times, serif" font-size="37.8" text-anchor="end" fill="#000" stroke="#000" stroke-width="0.45">21,800</text>
</g>
</svg>
</body></html>
